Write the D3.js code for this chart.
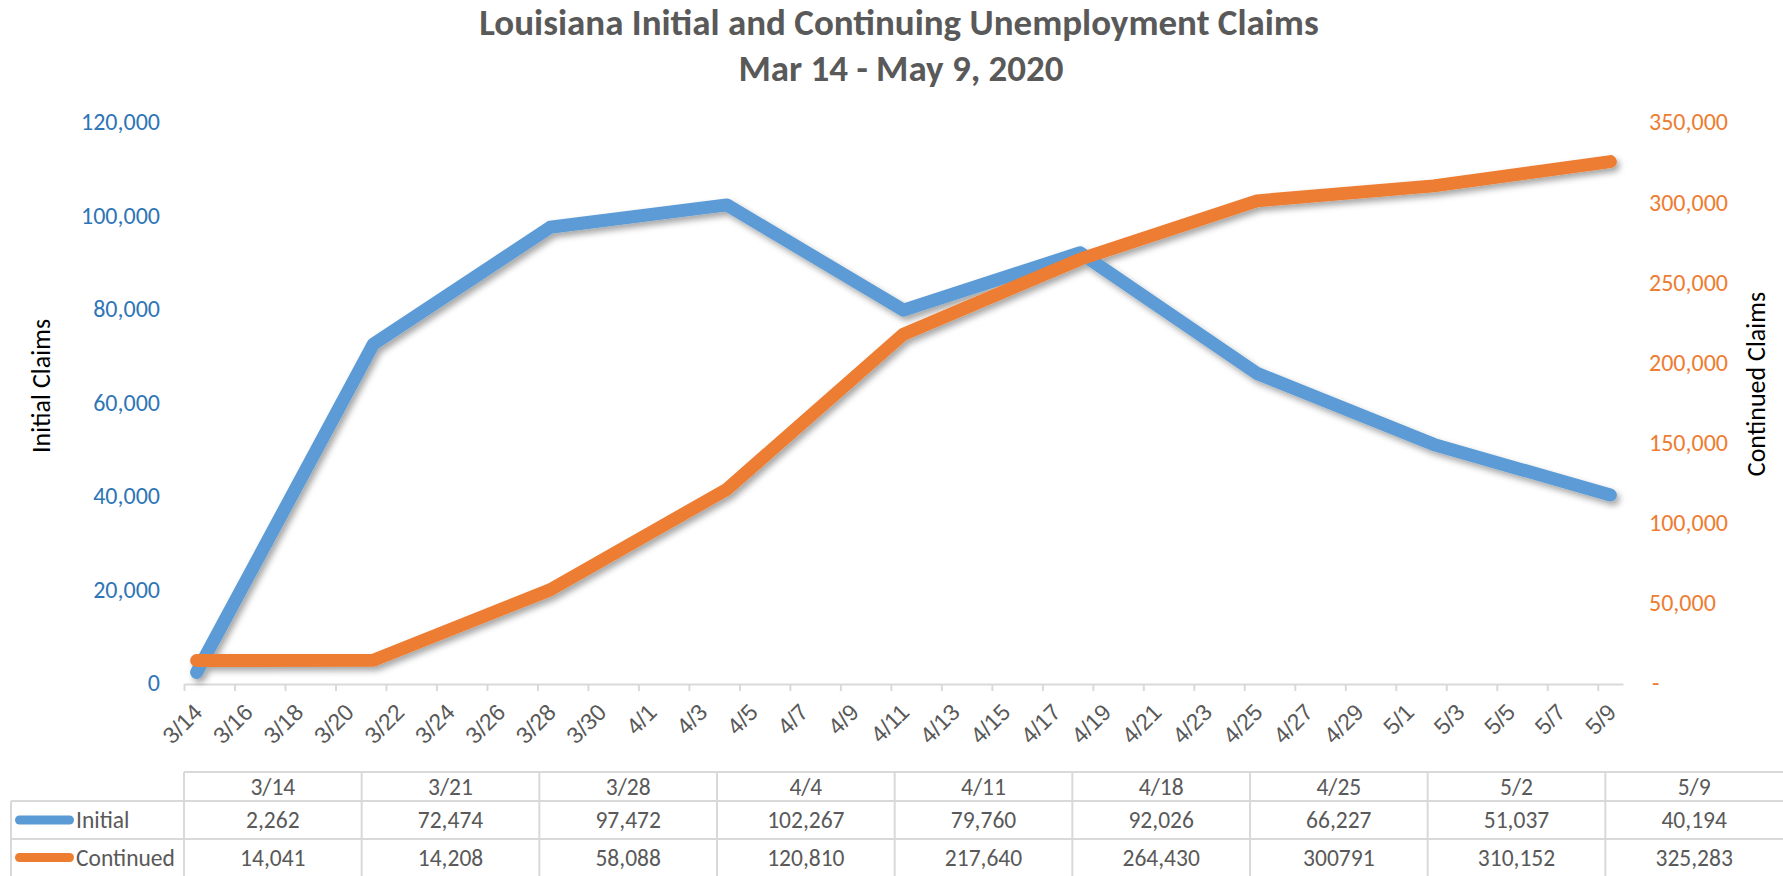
<!DOCTYPE html>
<html>
<head>
<meta charset="utf-8">
<script src="https://cdn.jsdelivr.net/npm/d3@7"></script>
<style>
  body { margin: 0; background: #fff; }
  svg { display: block; font-family: Calibri, Carlito, Lato, sans-serif; }
</style>
</head>
<body>
<svg id="chart" width="1783" height="876"></svg>
<script>
// week-ending dates and values
const weeks = ['2020-03-14', '2020-03-21', '2020-03-28', '2020-04-04', '2020-04-11',
               '2020-04-18', '2020-04-25', '2020-05-02', '2020-05-09'];
const initialClaims = [2262, 72474, 97472, 102267, 79760, 92026, 66227, 51037, 40194];
const continuedClaims = [14041, 14208, 58088, 120810, 217640, 264430, 300791, 310152, 325283];

// table text as printed in the source sheet
const weekLabels = ['3/14', '3/21', '3/28', '4/4', '4/11', '4/18', '4/25', '5/2', '5/9'];
const initialLabels = ['2,262', '72,474', '97,472', '102,267', '79,760', '92,026', '66,227', '51,037', '40,194'];
const continuedLabels = ['14,041', '14,208', '58,088', '120,810', '217,640', '264,430', '300791', '310,152', '325,283'];

const leftTicks = [0, 20000, 40000, 60000, 80000, 100000, 120000];
const rightTicks = [0, 50000, 100000, 150000, 200000, 250000, 300000, 350000];

const BLUE = '#5B9BD5';
const ORANGE = '#ED7D31';
const GRAY = '#595959';
const GRID = '#D9D9D9';

const parse = d3.utcParse('%Y-%m-%d');
const series = [
    { name: 'Initial', color: BLUE, values: weeks.map((w, i) => ({ date: parse(w), v: initialClaims[i] })) },
    { name: 'Continued', color: ORANGE, values: weeks.map((w, i) => ({ date: parse(w), v: continuedClaims[i] })) }
];

const svg = d3.select('#chart');

const plot = { left: 184, right: 1623, top: 122, bottom: 683 };

const start = parse(weeks[0]);
const end = d3.utcDay.offset(parse(weeks[weeks.length - 1]), 1);

const x = d3.scaleUtc().domain([start, end]).range([plot.left, plot.right]);
const dayW = x(d3.utcDay.offset(start, 1)) - x(start);
const xMid = d => x(d3.utcHour.offset(d, 12));

const yLeft = d3.scaleLinear().domain([0, 120000]).range([plot.bottom, plot.top]);
const yRight = d3.scaleLinear().domain([0, 350000]).range([plot.bottom, plot.top]);

// shadow under the lines
const defs = svg.append('defs');
defs.append('filter')
    .attr('id', 'shadow')
    .attr('x', '-10%').attr('y', '-10%').attr('width', '120%').attr('height', '130%')
    .append('feDropShadow')
    .attr('dx', 3).attr('dy', 4)
    .attr('stdDeviation', 3)
    .attr('flood-color', '#000')
    .attr('flood-opacity', 0.35);

// Title
const title = svg.append('text')
    .attr('text-anchor', 'middle')
    .attr('font-weight', 'bold')
    .attr('font-size', 37)
    .attr('fill', GRAY);
title.append('tspan').attr('x', 899).attr('y', 35).text('Louisiana Initial and Continuing Unemployment Claims');
title.append('tspan').attr('x', 901).attr('y', 81).text('Mar 14 - May 9, 2020');

// X axis
const tickDates = d3.utcDay.range(start, end, 2);
const xAxis = svg.append('g')
    .attr('transform', `translate(0, ${plot.bottom + 1})`)
    .call(d3.axisBottom(x)
        .tickValues(tickDates)
        .tickSize(7)
        .tickSizeOuter(0)
        .tickFormat(d3.utcFormat('%-m/%-d')));
xAxis.select('.domain').attr('stroke', GRID).attr('stroke-width', 2);
xAxis.selectAll('.tick line').attr('stroke', GRID).attr('stroke-width', 2);
xAxis.selectAll('.tick text')
    .attr('x', null).attr('y', null).attr('dy', '0.35em')
    .attr('text-anchor', 'end')
    .attr('transform', `translate(${dayW / 2 + 1}, 24) rotate(-45)`)
    .attr('font-size', 23)
    .attr('fill', GRAY);

// Left axis labels
svg.append('g')
    .selectAll('text')
    .data(leftTicks)
    .join('text')
    .attr('x', 160)
    .attr('y', d => yLeft(d))
    .attr('dy', '0.35em')
    .attr('text-anchor', 'end')
    .attr('font-size', 24)
    .attr('fill', '#2E75B6')
    .text(d3.format(','));

// Right axis labels
svg.append('g')
    .selectAll('text')
    .data(rightTicks)
    .join('text')
    .attr('x', d => d === 0 ? 1652 : 1649)
    .attr('y', d => yRight(d))
    .attr('dy', '0.35em')
    .attr('text-anchor', 'start')
    .attr('font-size', 24)
    .attr('fill', ORANGE)
    .text(d => d === 0 ? '-' : d3.format(',')(d));

// Axis titles
svg.append('text')
    .attr('transform', 'translate(50, 386) rotate(-90)')
    .attr('text-anchor', 'middle')
    .attr('font-size', 26)
    .attr('fill', '#000')
    .text('Initial Claims');

svg.append('text')
    .attr('transform', 'translate(1765, 384) rotate(-90)')
    .attr('text-anchor', 'middle')
    .attr('font-size', 26)
    .attr('fill', '#000')
    .text('Continued Claims');

// Lines
const lineLeft = d3.line().x(d => xMid(d.date)).y(d => yLeft(d.v));
const lineRight = d3.line().x(d => xMid(d.date)).y(d => yRight(d.v));

svg.append('g')
    .attr('filter', 'url(#shadow)')
    .selectAll('path')
    .data(series)
    .join('path')
    .attr('d', (d, i) => (i === 0 ? lineLeft : lineRight)(d.values))
    .attr('fill', 'none')
    .attr('stroke', d => d.color)
    .attr('stroke-width', 13)
    .attr('stroke-linejoin', 'round')
    .attr('stroke-linecap', 'round');

// Data table
const table = { left: 11, colStart: 184, right: 1783, rows: [772, 801, 839, 876] };
const colW = (table.right - table.colStart) / weekLabels.length;
const colX = i => table.colStart + i * colW;

const grid = svg.append('g').attr('stroke', GRID).attr('stroke-width', 2);
grid.append('line').attr('x1', table.colStart).attr('x2', table.right)
    .attr('y1', table.rows[0]).attr('y2', table.rows[0]);
[table.rows[1], table.rows[2]].forEach(y => {
    grid.append('line').attr('x1', table.left).attr('x2', table.right).attr('y1', y).attr('y2', y);
});
grid.append('line').attr('x1', table.left).attr('x2', table.left)
    .attr('y1', table.rows[1]).attr('y2', table.rows[3]);
d3.range(weekLabels.length).forEach(i => {
    grid.append('line').attr('x1', colX(i)).attr('x2', colX(i))
        .attr('y1', table.rows[0]).attr('y2', table.rows[3]);
});

const rowMid = r => (table.rows[r] + table.rows[r + 1]) / 2;
const tableRows = [weekLabels, initialLabels, continuedLabels];
tableRows.forEach((labels, r) => {
    svg.append('g')
        .selectAll('text')
        .data(labels)
        .join('text')
        .attr('x', (d, i) => colX(i) + colW / 2)
        .attr('y', rowMid(r))
        .attr('dy', '0.35em')
        .attr('text-anchor', 'middle')
        .attr('font-size', 23.5)
        .attr('fill', GRAY)
        .text(d => d);
});

// legend keys in the table
series.forEach((s, i) => {
    const y = rowMid(i + 1);
    svg.append('line')
        .attr('x1', 19.5).attr('x2', 69.5)
        .attr('y1', y).attr('y2', y)
        .attr('stroke', s.color)
        .attr('stroke-width', 9)
        .attr('stroke-linecap', 'round');
    svg.append('text')
        .attr('x', 76)
        .attr('y', y)
        .attr('dy', '0.35em')
        .attr('font-size', 23.5)
        .attr('fill', GRAY)
        .text(s.name);
});
</script>
</body>
</html>
